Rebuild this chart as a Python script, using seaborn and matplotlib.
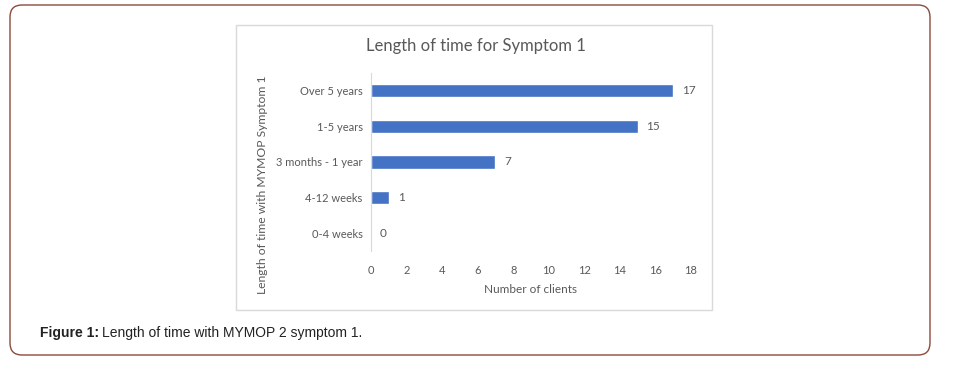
import matplotlib
matplotlib.use("Agg")
import matplotlib.pyplot as plt
import seaborn as sns
import pandas as pd
from matplotlib.patches import FancyBboxPatch, Rectangle

# datos del grafico
categorias = ["Over 5 years", "1-5 years", "3 months - 1 year", "4-12 weeks", "0-4 weeks"]
clientes = [17, 15, 7, 1, 0]
ticks_x = [0, 2, 4, 6, 8, 10, 12, 14, 16, 18]

df = pd.DataFrame({"categoria": categorias, "clientes": clientes})

sns.set_style("white")
plt.rcParams["font.family"] = ["Lato", "DejaVu Sans"]
gris = "#595959"

fig = plt.figure(figsize=(9.54, 3.65), dpi=100)

# marco exterior redondeado y marco del grafico (en pixeles), detras de los ejes
fig.patches.append(FancyBboxPatch((10, 10), 920, 350, boxstyle="round,pad=0,rounding_size=12",
                                  transform=None, facecolor="white", edgecolor="#8b4a3c",
                                  linewidth=1.0, figure=fig, zorder=-2))
fig.patches.append(Rectangle((236, 55), 476, 285, transform=None, facecolor="white",
                             edgecolor="#d9d9d9", linewidth=1.0, figure=fig, zorder=-1))

ax = fig.add_axes([371 / 954, 1 - 251 / 365, 320 / 954, 178 / 365])
ax.set_facecolor("none")
sns.barplot(data=df, x="clientes", y="categoria", order=categorias, orient="h",
            color="#4472c4", width=0.37, saturation=1, ax=ax)

ax.set_xlim(0, 18)
ax.set_xticks(ticks_x)
ax.tick_params(axis="both", length=0, labelsize=8, labelcolor=gris, pad=6)
ax.tick_params(axis="x", pad=10)
for s in ["top", "right", "bottom"]:
    ax.spines[s].set_visible(False)
ax.spines["left"].set_color("#d9d9d9")

for i, v in enumerate(clientes):
    ax.text(v + 0.5, i, str(v), va="center", ha="left", fontsize=8.5, color=gris)

ax.set_xlabel("Number of clients", fontsize=8.5, color=gris, labelpad=6)
ax.set_ylabel("Length of time with MYMOP Symptom 1", fontsize=8.7, color=gris, labelpad=8)
ax.yaxis.set_label_coords(-0.323, 0.37, transform=ax.transAxes)

fig.text(476 / 954, 1 - 46 / 365, "Length of time for Symptom 1", ha="center", va="center",
         fontsize=12, color=gris)

fig.text(40 / 954, 1 - 333 / 365, "Figure 1:", ha="left", va="center", fontsize=10,
         fontweight="bold", family="Liberation Sans", color="#222222")
fig.text(102 / 954, 1 - 333 / 365, "Length of time with MYMOP 2 symptom 1.", ha="left",
         va="center", fontsize=10, family="Liberation Sans", color="#222222")

fig.savefig("out.png", dpi=100)
